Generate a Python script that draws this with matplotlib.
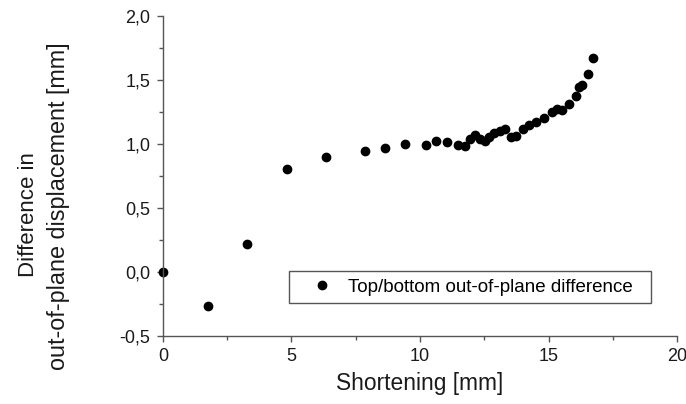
import matplotlib
matplotlib.use("Agg")
import matplotlib.pyplot as plt
from matplotlib.ticker import MultipleLocator

plt.rcParams['font.family'] = ['Liberation Sans', 'DejaVu Sans']

# shortening [mm] vs top/bottom out-of-plane difference [mm]
shortening = [0.0, 1.75, 3.28, 4.83, 6.35, 7.85, 8.63, 9.40, 10.23, 10.64,
              11.05, 11.47, 11.75, 11.93, 12.15, 12.33, 12.51, 12.69, 12.88, 13.11,
              13.29, 13.53, 13.75, 14.00, 14.24, 14.51, 14.84, 15.15, 15.33, 15.51,
              15.80, 16.08, 16.17, 16.31, 16.53, 16.73]
difference = [0.0, -0.266, 0.219, 0.804, 0.903, 0.943, 0.969, 1.003, 0.997, 1.021,
              1.013, 0.995, 0.987, 1.037, 1.070, 1.044, 1.021, 1.052, 1.089, 1.102,
              1.120, 1.055, 1.063, 1.120, 1.149, 1.175, 1.201, 1.253, 1.274, 1.266,
              1.316, 1.376, 1.444, 1.462, 1.548, 1.671]

x_ticks = [0, 5, 10, 15, 20]
y_ticks = [-0.5, 0.0, 0.5, 1.0, 1.5, 2.0]
y_tick_labels = ["-0,5", "0,0", "0,5", "1,0", "1,5", "2,0"]

fig = plt.figure(figsize=(6.86, 4.04), dpi=100)
ax = fig.add_axes([0.2376, 0.168, 0.7493, 0.792])

ax.plot(shortening, difference, 'o', color='black', markersize=6,
        label="Top/bottom out-of-plane difference", clip_on=False)

ax.set_xlim(0, 20)
ax.set_ylim(-0.5, 2.0)
ax.set_xticks(x_ticks)
ax.set_xticklabels([str(t) for t in x_ticks])
ax.set_yticks(y_ticks)
ax.set_yticklabels(y_tick_labels)
ax.xaxis.set_minor_locator(MultipleLocator(2.5))
ax.yaxis.set_minor_locator(MultipleLocator(0.25))

for side in ['top', 'right']:
    ax.spines[side].set_visible(False)
for side in ['left', 'bottom']:
    ax.spines[side].set_color('#555555')
    ax.spines[side].set_linewidth(1.0)

ax.tick_params(which='major', direction='out', length=4, width=1,
               color='#555555', labelsize=13, labelcolor='#1a1a1a')
ax.tick_params(which='minor', direction='out', length=3, width=1, color='#555555')
ax.tick_params(axis='x', which='major', pad=4.5)
ax.tick_params(axis='y', which='major', pad=5)

ax.set_xlabel("Shortening [mm]", fontsize=16.4, color='#1a1a1a', labelpad=5)

# two-line y label, each line placed as in the source figure
fig.text(0.0410, 0.468, "Difference in", rotation=90, ha='center', va='center',
         fontsize=16, color='#1a1a1a')
fig.text(0.0853, 0.490, "out-of-plane displacement [mm]", rotation=90,
         ha='center', va='center', fontsize=16.8, color='#1a1a1a')

leg = ax.legend(loc='center', bbox_to_anchor=(0.245, 0.097, 0.704, 0.112),
                mode='expand', borderaxespad=0, fancybox=False, framealpha=1,
                fontsize=13.5, handletextpad=0.05, borderpad=0.4, handlelength=2.7)
leg.get_frame().set_edgecolor('#555555')
leg.get_frame().set_linewidth(1.0)

fig.savefig("out.png", dpi=100)
